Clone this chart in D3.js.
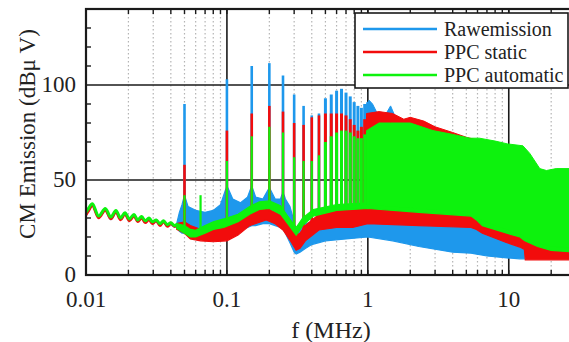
<!DOCTYPE html>
<html><head><meta charset="utf-8">
<script src="https://cdn.jsdelivr.net/npm/d3@7"></script>
<style>body{margin:0;background:#fff;font-family:"Liberation Serif",serif;}</style>
</head><body>
<svg id="c" width="569" height="342" font-family="Liberation Serif" style="font-family:'Liberation Serif'"></svg>
<script>
// ---------------- data ----------------
const seriesNames = ["Rawemission", "PPC static", "PPC automatic"];
const xTickValues = [0.01, 0.1, 1, 10];
const xTickLabels = ["0.01", "0.1", "1", "10"];
const yTickValues = [0, 50, 100];
const yTickLabels = ["0", "50", "100"];

// low-frequency ripple, 0.01 - 0.045 MHz
const rippleFreq   = [0.0100,0.0104,0.0111,0.0123,0.0137,0.0150,0.0163,0.0176,0.0189,0.0203,0.0219,0.0233,0.0248,0.0263,0.0280,0.0296,0.0315,0.0335,0.0355,0.0378,0.0400,0.0425,0.0445];
const rippleRaw    = [32,34,37,30.5,34.5,29.5,33.5,29.5,32.5,29,31.5,28.5,30.5,28,29.5,27.5,28.5,26.5,28,26,27,25.5,26.5];
const rippleStatic = [31.5,33.5,36.5,30,34,29.5,33,29,32,28.5,31,28,30,27.5,29,27,28.5,26,28,25.5,27,25.5,26];
const rippleAuto   = [33,35,37.5,31,35,30.5,34,30,32.8,29.5,31.8,29,30.8,28.5,30,28,29,27,28.5,26.5,27.5,26,27];

// noise floor bands (low / high edge, dBµV)
const rawBandFreq = [0.044,0.046,0.048,0.05,0.053,0.06,0.07,0.08,0.09,0.1,0.11,0.125,0.14,0.15,0.16,0.18,0.2,0.22,0.24,0.25,0.26,0.28,0.3,0.31,0.33,0.36,0.4,0.5,0.7,1.0,1.5,2.3,4,5.4,7,9.7,12,12.7,12.9];
const rawBandLow  = [25,23,22,22,22,22,22,22,22,22,23,24,25,26,26,27,27,26,25,24,22,17,12,11,12,14,16,18,19,20,18,15,12,11.5,10,9,8.5,8.5,8.5];
const rawBandHigh = [27,33,37,42,36,34,33,34,37,47,40,38,41,47,41,40,46,40,40,44,40,36,28,24,25,27,28,28,28,28,27,26,25.5,25.5,22,19.5,17,18,17];

const staticBandFreq = [0.044,0.05,0.055,0.065,0.08,0.1,0.12,0.145,0.19,0.22,0.25,0.28,0.31,0.33,0.36,0.45,0.6,0.78,1.0,2.3,5.4,5.9,6.5,9.7,12,12.9,13.1,16,22,30];
const staticBandLow  = [24,22,19,18,17.5,18,21,26,29,27,23.7,18.4,13,14,18,23.7,25,25,27,26,25,24,22,17,14.7,13.5,8,8,8,8];
const staticBandHigh = [27,28,26,24,25,29,31,34,35,33,30.5,26,21,22,26,32,34.5,35,35.5,34,32,31,27,24,22,21,20,17,14,12.5];

const autoBandFreq = [0.044,0.05,0.055,0.06,0.07,0.08,0.095,0.12,0.145,0.17,0.2,0.24,0.27,0.31,0.345,0.41,0.6,1.0,2.3,5.4,5.9,6.5,9.7,12,13,16,20,30];
const autoBandLow  = [24.5,22,20,20,22,24,25,28,32,34.5,35,32,27,21,26,31,34,35,33,31,29,26,22,20,18,15,13,12];
const autoBandHigh = [27,26,24,23.5,26,28,29.5,32,36,38.5,39,36.5,31,25,30,34.5,37,38,36,34,32,29,25,23,21,18,16,15];

// harmonic spikes (peak values, dBµV)
const rawSpikeFreq    = [0.05,0.1,0.15,0.2,0.25,0.3,0.35,0.4,0.45,0.5,0.55,0.6,0.65,0.7,0.75,0.8,0.85,0.9,0.95,1.0];
const rawSpikePeak    = [90,103,110,111.5,105,95,89,84,85,93,95,97,98,96,94,91,89,88,90,91];
const staticSpikeFreq = [0.05,0.1,0.15,0.2,0.25,0.3,0.35,0.4,0.45,0.5,0.55,0.6,0.65,0.7,0.75,0.8,0.85,0.9,0.95,1.0];
const staticSpikePeak = [58,76,85,89,86,80,79,83,84,85,85,85,85,84,82,79,76,78,82,85];
const autoSpikeFreq   = [0.05,0.065,0.1,0.15,0.2,0.25,0.3,0.35,0.4,0.45,0.5,0.55,0.6,0.65,0.7,0.75,0.8,0.85,0.9,0.95,1.0];
const autoSpikePeak   = [42,42,60,73,78,75,62,60,60,63,70,73,75,76,76,75,73,72,72,74,76];

// dense-harmonic envelopes above ~1 MHz
const rawEnvFreq    = [0.98,1.02,1.08,1.15,1.25,1.35,1.45,1.55,1.7,2.2,3,5,8,12.8];
const rawEnv        = [90,92,90,86,84,85,89,84,82,79,75,70,66,63];
const staticEnvFreq = [0.98,1.2,1.5,1.8,2.0,2.5,3,4,5,6,7,10,13,16,20,30];
const staticEnv     = [85,86,85,82,83,81,78,75,72.5,71,69,66,60,50,45,40];
const autoEnvFreq   = [0.98,1.2,1.45,2,2.9,4,5.3,6.2,8,9.8,12.6,14.1,16.6,18.5,21.7,30];
const autoEnv       = [76,80,80,80,76,74,72,72,70.5,69,68,64,56,55,56,56];

const colors = ["#1e98ec", "#f20c0c", "#0df20d"];

// ---------------- chart ----------------
const svg = d3.select("#c");
const L = 86, R = 576, T = 9, B = 275;
const x = d3.scaleLog().domain([0.01, 30]).range([L, R]);
const y = d3.scaleLinear().domain([0, 140]).range([B, T]);
const FONT = '"Liberation Serif"';

svg.append("defs").append("clipPath").attr("id","clip")
  .append("rect").attr("x",L).attr("y",T).attr("width",R-L).attr("height",B-T);

// grid (below data)
const grid = svg.append("g");
const minorX = [];
[0.01,0.1,1,10].forEach(d => { for (let k=2;k<=9;k++){ const v=d*k; if (v<30) minorX.push(v);} });
grid.selectAll("line.mx").data(minorX).join("line")
  .attr("x1",d=>x(d)).attr("x2",d=>x(d)).attr("y1",T).attr("y2",B)
  .attr("stroke","#b4b4b4").attr("stroke-width",1.2).attr("stroke-dasharray","1.5,2.5");
grid.selectAll("line.Mx").data([0.1,1,10]).join("line")
  .attr("x1",d=>x(d)).attr("x2",d=>x(d)).attr("y1",T).attr("y2",B)
  .attr("stroke","#1a1a1a").attr("stroke-width",1.6);
grid.selectAll("line.My").data([50,100]).join("line")
  .attr("x1",L).attr("x2",R).attr("y1",d=>y(d)).attr("y2",d=>y(d))
  .attr("stroke","#1a1a1a").attr("stroke-width",1.6);

const plot = svg.append("g").attr("clip-path","url(#clip)");

const series = [
  {ripple: rippleRaw, bf: rawBandFreq, bl: rawBandLow, bh: rawBandHigh, sf: rawSpikeFreq, sp: rawSpikePeak, ef: rawEnvFreq, ev: rawEnv},
  {ripple: rippleStatic, bf: staticBandFreq, bl: staticBandLow, bh: staticBandHigh, sf: staticSpikeFreq, sp: staticSpikePeak, ef: staticEnvFreq, ev: staticEnv},
  {ripple: rippleAuto, bf: autoBandFreq, bl: autoBandLow, bh: autoBandHigh, sf: autoSpikeFreq, sp: autoSpikePeak, ef: autoEnvFreq, ev: autoEnv}
];

series.forEach((s, i) => {
  const col = colors[i];
  const g = plot.append("g");
  const floorHigh = d3.scaleLog().domain(s.bf).range(s.bh).clamp(true);
  const band = s.bf.map((f,j)=>({f, lo:s.bl[j], hi:s.bh[j]}));
  g.append("path").datum(band)
    .attr("d", d3.area().x(d=>x(d.f)).y0(d=>y(d.lo)).y1(d=>y(d.hi)))
    .attr("fill", col).attr("stroke", col).attr("stroke-width", 1.2);
  const env = s.ef.map((f,j)=>({f, v:s.ev[j]}));
  g.append("path").datum(env)
    .attr("d", d3.area().x(d=>x(d.f)).y0(d=>y(floorHigh(d.f)-1)).y1(d=>y(d.v)))
    .attr("fill", col).attr("stroke", col).attr("stroke-width", 1);
  const spikes = s.sf.map((f,j)=>({f, v:s.sp[j]}));
  g.selectAll("line.sp").data(spikes).join("line")
    .attr("x1",d=>x(d.f)).attr("x2",d=>x(d.f))
    .attr("y1",d=>y(floorHigh(d.f)-1)).attr("y2",d=>y(d.v))
    .attr("stroke", col).attr("stroke-width", d => d.f > 0.45 ? 3 : (i===2 ? 2.2 : 2.6));
  const rip = rippleFreq.map((f,j)=>({f, v:s.ripple[j]}));
  g.append("path").datum(rip)
    .attr("d", d3.line().x(d=>x(d.f)).y(d=>y(d.v)).curve(d3.curveCatmullRom))
    .attr("fill","none").attr("stroke",col).attr("stroke-width", i===2 ? 3 : 2.6);
});

// ticks (inward)
const tk = svg.append("g").attr("stroke","#1a1a1a").attr("stroke-width",1.4);
const allX = minorX.concat([0.1,1,10]);
tk.selectAll("line.b").data(allX).join("line")
  .attr("x1",d=>x(d)).attr("x2",d=>x(d)).attr("y1",B).attr("y2",B-5);
tk.selectAll("line.t").data(allX).join("line")
  .attr("x1",d=>x(d)).attr("x2",d=>x(d)).attr("y1",T).attr("y2",T+5);
const yMinor = d3.range(10,140,10).filter(v=>v%50!==0);
tk.selectAll("line.l").data(yMinor).join("line")
  .attr("x1",L).attr("x2",L+5).attr("y1",d=>y(d)).attr("y2",d=>y(d));

// frame
svg.append("rect").attr("x",L).attr("y",T).attr("width",R-L).attr("height",B-T)
  .attr("fill","none").attr("stroke","#1a1a1a").attr("stroke-width",2.2);

function txt(sel, size){
  return sel.attr("font-family","Liberation Serif").style("font-family",FONT).style("font-size",size+"px").attr("fill","#222");
}
// axis labels
txt(svg.append("g").selectAll("text").data(xTickValues).join("text"), 23)
  .attr("x",d=>x(d)).attr("y",307).attr("text-anchor","middle")
  .text((d,i)=>xTickLabels[i]);
txt(svg.append("g").selectAll("text").data(yTickValues).join("text"), 23)
  .attr("x",76).attr("y",d=>y(d)).attr("dy","0.3em").attr("text-anchor","end")
  .text((d,i)=>yTickLabels[i]);

txt(svg.append("text"), 24).attr("x",331).attr("y",338).attr("text-anchor","middle").text("f (MHz)");
txt(svg.append("text"), 23).attr("transform","translate(35,134) rotate(-90)").attr("text-anchor","middle")
  .text("CM Emission (dBμ V)");

// legend
const lg = svg.append("g");
lg.append("rect").attr("x",355).attr("y",13).attr("width",213).attr("height",75)
  .attr("fill","#fff").attr("stroke","#1a1a1a").attr("stroke-width",1.6);
seriesNames.forEach((n,i)=>{
  const yy = 29 + i*23;
  lg.append("line").attr("x1",363).attr("x2",437).attr("y1",yy).attr("y2",yy)
    .attr("stroke",colors[i]).attr("stroke-width",2.6);
  txt(lg.append("text"), 20).attr("x",444).attr("y",yy).attr("dy","0.35em").text(n);
});
</script>
</body></html>
